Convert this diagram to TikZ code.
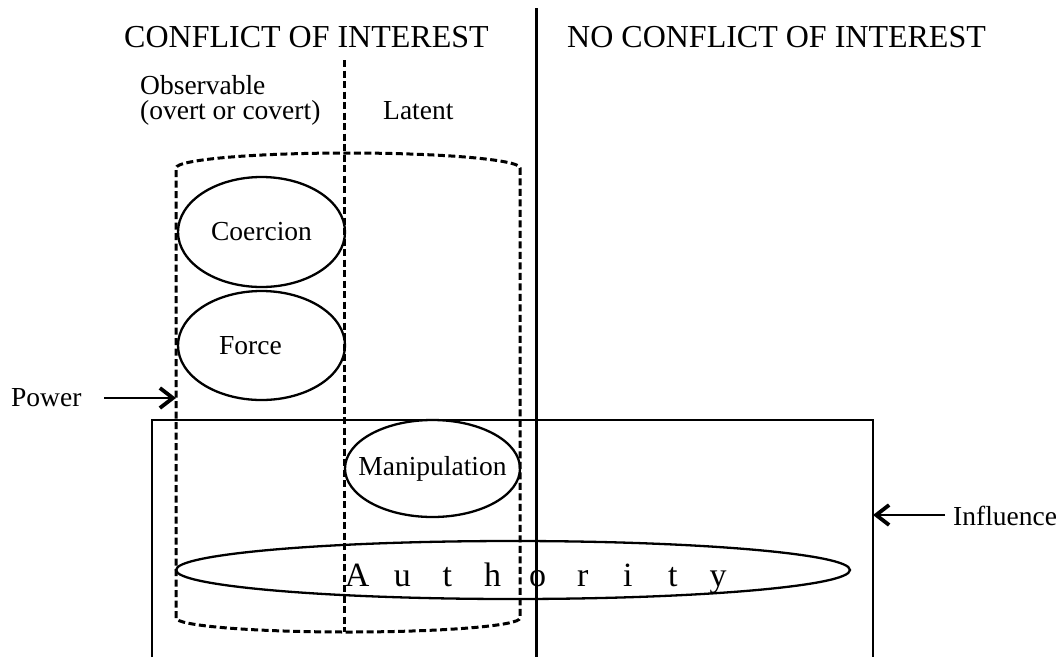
\documentclass[tikz,border=0pt]{standalone}
\usepackage{fontspec}
\setmainfont{Liberation Serif}
\usetikzlibrary{arrows.meta,shapes.geometric}
\begin{document}
\begin{tikzpicture}[x=1pt,y=-1pt,
  solidline/.style={line width=3pt},
  boxline/.style={line width=2.3pt},
  dashline/.style={line width=3pt,dash pattern=on 7pt off 3.5pt},
  oval/.style={ellipse,draw,line width=2.3pt,inner sep=0pt},
  title/.style={font=\fontsize{32}{38}\selectfont,inner sep=0pt},
  lbl/.style={font=\fontsize{27.5}{25}\selectfont,inner sep=0pt},
  pointer/.style={line width=2.8pt,-{Straight Barb[length=13pt,width=20pt,line width=3.8pt]}}
]
\useasboundingbox (0,0) rectangle (1058,657);

% headings
\node[title,anchor=base west] (conf) at (124,47) {CONFLICT OF INTEREST};
\node[title,anchor=base west] (noconf) at (567,47) {NO CONFLICT OF INTEREST};
\node[lbl,anchor=base west,align=left] (obs) at (140,119) {Observable\\(overt or covert)};
\node[lbl,anchor=base west] (latent) at (383,119) {Latent};

% dividing lines
\coordinate (divtop) at (536,8);
\coordinate (divbot) at (536,657);
\draw[solidline] (divtop) -- (divbot);
\coordinate (splittop) at (344,60);
\coordinate (splitbot) at (344,632);
\draw[dashline] (splittop) -- (splitbot);

% influence box, open at the bottom
\draw[boxline] (152,657) -- (152,420) -- (873,420) -- (873,657);

% power cylinder
\draw[dashline] (176,618) -- (176,168) arc[start angle=180,end angle=360,x radius=172,y radius=15]
  -- (520,618) arc[start angle=0,end angle=180,x radius=172,y radius=14];

% ovals
\node[oval,lbl,minimum width=167pt,minimum height=110pt] (coercion) at (261.5,232) {\makebox[0pt]{Coercion}};
\node[oval,lbl,minimum width=167pt,minimum height=109pt] (force) at (261.5,345.5) {\makebox[0pt]{Force\hspace{22pt}}};
\node[oval,lbl,minimum width=175pt,minimum height=97pt] (manip) at (432.5,468.5) {\makebox[0pt]{Manipulation}};
\node[oval,minimum width=674pt,minimum height=58pt] (authority) at (513,570) {};
\node[inner sep=0pt,anchor=base west,font=\fontsize{34}{38}\selectfont] (authtext) at (334.5,586)
  {\makebox[45.1pt]{A}\makebox[45.1pt]{u}\makebox[45.1pt]{t}\makebox[45.1pt]{h}\makebox[45.1pt]{o}\makebox[45.1pt]{r}\makebox[45.1pt]{i}\makebox[45.1pt]{t}\makebox[45.1pt]{y}};

% pointers
\node[lbl,anchor=base west] (power) at (11,406) {Power};
\coordinate (powerstart) at (104,398);
\coordinate (powerend) at (176,398);
\draw[pointer] (powerstart) -- (powerend);

\node[lbl,anchor=base west] (influence) at (953,525) {Influence};
\coordinate (inflstart) at (945,515);
\coordinate (inflend) at (873,515);
\draw[pointer] (inflstart) -- (inflend);
\end{tikzpicture}
\end{document}
